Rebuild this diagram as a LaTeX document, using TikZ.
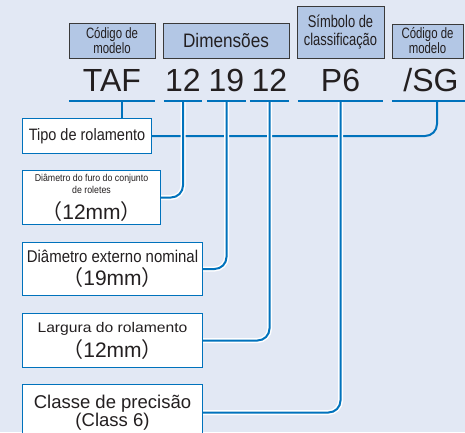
\documentclass[tikz,border=0pt]{standalone}
\usepackage{fontspec}
\setmainfont{Liberation Sans}
\newfontfamily\condfont[FakeStretch=0.76]{Liberation Sans}
\newfontfamily\semifont[FakeStretch=0.88]{Liberation Sans}
\newfontfamily\widefont[FakeStretch=1.12]{Liberation Sans}
\newfontfamily\cjkfont{Noto Sans CJK JP}
\newcommand\fwopen{{\cjkfont （}}
\newcommand\fwclose{{\cjkfont ）}}
\definecolor{bgblue}{HTML}{E2E8F4}
\definecolor{headblue}{HTML}{B3C7E5}
\definecolor{headgray}{HTML}{3A3A3A}
\definecolor{lineblue}{HTML}{0072BC}
\definecolor{ink}{HTML}{231F20}

\begin{document}
\begin{tikzpicture}[x=1pt, y=-1pt,
    head/.style={draw=headgray, fill=headblue, line width=0.8pt, inner sep=0pt, align=center, text=ink},
    code/.style={inner sep=0pt, text height=23pt, text depth=10pt, font=\fontsize{32}{32}\selectfont, text=ink},
    item/.style={draw=lineblue, fill=white, line width=1pt, anchor=north west, inner sep=0pt, align=center, text=ink},
    uline/.style={draw=lineblue, line width=2pt},
    lead/.style={draw=lineblue, line width=2pt, rounded corners=12pt},
    gap/.style={preaction={draw=white, line width=5pt}}]
    % Background
    \fill[bgblue] (0,0) rectangle (465,432);
    \useasboundingbox (0,0) rectangle (465,432);

    % Header boxes
    \node[head, minimum width=86pt, minimum height=35pt, font=\condfont\fontsize{15}{15}\selectfont] (modA) at (112,40.5) {Código de\\modelo};
    \node[head, minimum width=126pt, minimum height=35pt, font=\semifont\fontsize{19.5}{19.5}\selectfont] (dims) at (226,40.5) {Dimensões};
    \node[head, minimum width=87pt, minimum height=52pt, font=\condfont\fontsize{17}{18}\selectfont] (symb) at (340.5,32) {Símbolo de\\classificação};
    \node[head, minimum width=71pt, minimum height=34pt, font=\condfont\fontsize{15}{15}\selectfont] (modB) at (427.5,41) {Código de\\modelo};

    % Code
    \node[code, minimum width=86pt] (taf) at (112,84.5) {TAF};
    \node[code, minimum width=38pt] (bore) at (183,84.5) {12};
    \node[code, minimum width=39pt] (outer) at (226.5,84.5) {19};
    \node[code, minimum width=39pt] (width) at (269.5,84.5) {12};
    \node[code, minimum width=85pt] (prec) at (340.5,84.5) {P6};
    \node[code, minimum width=78pt] (sg) at (431,84.5) {/SG};

    % Meaning boxes
    \node[item, minimum width=129pt, minimum height=35pt, font=\semifont\fontsize{16.5}{18}\selectfont] (tipo) at (22,118) {Tipo de rolamento};
    \node[item, minimum width=138pt, minimum height=54pt, font=\semifont\fontsize{10}{12}\selectfont] (furo) at (22,170)
        {Diâmetro do furo do conjunto\\
         de roletes\\[7pt]
         {\normalfont\fontsize{21}{21}\selectfont\fwopen12mm\fwclose}};
    \node[item, minimum width=180pt, minimum height=53pt, font=\semifont\fontsize{17}{23}\selectfont] (ext) at (22,242)
        {Diâmetro externo nominal\\
         {\normalfont\fontsize{21}{21}\selectfont\fwopen19mm\fwclose}};
    \node[item, minimum width=180pt, minimum height=54pt, font=\widefont\fontsize{14}{25}\selectfont] (larg) at (22,313)
        {Largura do rolamento\\
         {\normalfont\fontsize{21}{21}\selectfont\fwopen12mm\fwclose}};
    \node[item, minimum width=180pt, minimum height=56pt, font=\fontsize{18.5}{18.5}\selectfont] (cls) at (22,384)
        {Classe de precisão\\(Class 6)};

    % Leads
    \draw[lead] ([xshift=6pt]sg.south) |- (tipo.east);
    \draw[lead] ([xshift=10pt]taf.south) -- ([xshift=10pt]taf.south |- tipo.north);
    \draw[lead, gap] (bore.south) |- (furo.east);
    \draw[lead, gap] (outer.south) |- (ext.east);
    \draw[lead, gap] (width.south) |- (larg.east);
    \draw[lead, gap] (prec.south) |- (cls.east);

    % Underlines
    \foreach \n in {taf, bore, outer, width, prec, sg}
        \draw[uline] (\n.south west) -- (\n.south east);
\end{tikzpicture}
\end{document}
